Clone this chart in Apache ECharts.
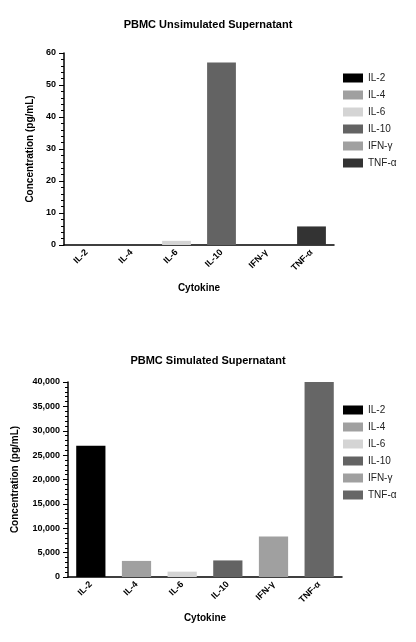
<!DOCTYPE html>
<html><head><meta charset="utf-8">
<script src="https://cdn.jsdelivr.net/npm/echarts@6/dist/echarts.min.js"></script>
<style>html,body{margin:0;padding:0;background:#fff}#c{width:416px;height:642px}</style>
</head><body><div id="c"></div>
<script>
const categories = ['IL-2','IL-4','IL-6','IL-10','IFN-γ','TNF-α'];
const unstimValues = [0, 0, 1.3, 57, 0, 5.8];
const stimValues = [26900, 3300, 1100, 3400, 8300, 40000];
const unstimColors = ['#000000','#a0a0a0','#d4d4d4','#636363','#a0a0a0','#333333'];
const stimColors = ['#000000','#a0a0a0','#d4d4d4','#636363','#a0a0a0','#666666'];
const F = 'Liberation Sans, Arial, sans-serif';

function seriesFor(vals, colors, idx){
  return categories.map((c,i)=>({
    type:'bar', name:c, xAxisIndex:idx, yAxisIndex:idx, stack:'s'+idx, barWidth:'64%',
    itemStyle:{color:colors[i]},
    data: categories.map((_,j)=> j===i ? vals[i] : null)
  }));
}
function xA(idx){return {type:'category',gridIndex:idx,data:categories,
  axisLine:{lineStyle:{color:'#000',width:1.5}},axisTick:{alignWithLabel:true,lineStyle:{color:'#000'}},
  axisLabel:{rotate:45,color:'#000',fontWeight:'bold',fontSize:9,fontFamily:F,margin:6},
  name:'Cytokine',nameLocation:'middle',nameGap:idx?36:38,nameTextStyle:{fontWeight:'bold',fontSize:10,color:'#000',fontFamily:F}};}
function yA(idx,max,interval,gap){return {type:'value',gridIndex:idx,min:0,max:max,interval:interval,
  axisLine:{show:true,lineStyle:{color:'#000',width:1.5}},axisTick:{show:true,lineStyle:{color:'#000'}},
  minorTick:{show:true,splitNumber:5,length:3,lineStyle:{color:'#000'}},splitLine:{show:false},
  axisLabel:{color:'#000',fontWeight:'bold',fontSize:9,fontFamily:F},
  name:'Concentration (pg/mL)',nameLocation:'middle',nameGap:gap,nameTextStyle:{fontWeight:'bold',fontSize:10,color:'#000',fontFamily:F}};}
function legend(idx,colors,top){return {top:top,left:338,orient:'vertical',itemWidth:20,itemHeight:9,itemGap:7,icon:'rect',
  textStyle:{fontSize:10,color:'#222',fontFamily:F},selectedMode:false,
  data:categories.map((c,i)=>({name:c,itemStyle:{color:colors[i]}}))};}

const chart = echarts.init(document.getElementById('c'));
chart.setOption({
  animation:false,
  title:[{text:'PBMC Unsimulated Supernatant',left:'center',top:14,textStyle:{fontSize:11,fontWeight:'bold',color:'#000',fontFamily:F}},
         {text:'PBMC Simulated Supernatant',left:'center',top:350,textStyle:{fontSize:11,fontWeight:'bold',color:'#000',fontFamily:F}}],
  grid:[{left:64,top:53,width:270,height:192},{left:68,top:382,width:274,height:195}],
  legend:[legend(0,unstimColors,68),legend(1,stimColors,400)],
  xAxis:[xA(0),xA(1)],
  yAxis:[yA(0,60,10,28),yA(1,40000,5000,48)],
  series:[...seriesFor(unstimValues,unstimColors,0),...seriesFor(stimValues,stimColors,1)]
});
</script></body></html>
